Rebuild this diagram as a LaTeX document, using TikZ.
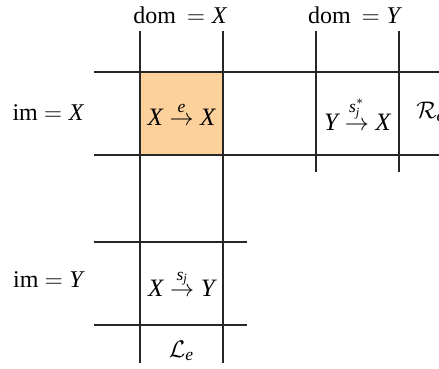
\documentclass[tikz,border=0pt]{standalone}
\usepackage{amsmath}
\usepackage{fontspec}
\setmainfont{Liberation Serif}
\definecolor{idfill}{RGB}{253,209,156}
\newcommand{\oX}{\mathit{X}}
\newcommand{\oY}{\mathit{Y}}

\begin{document}
\begin{tikzpicture}[x=0.5pt, y=-0.5pt,
  gridline/.style={line width=0.8pt, black!85},
  headlabel/.style={font=\fontsize{12}{14}\selectfont},
  celllabel/.style={font=\fontsize{12.5}{15}\selectfont, inner sep=0pt},
  cellbox/.style={minimum width=41.5pt, minimum height=41.5pt, inner sep=0pt}]
  \useasboundingbox (0,0) rectangle (439,369);

  % cells
  \node[cellbox, fill=idfill] (ee) at (181.5,113.5) {};
  \node[cellbox] (se) at (357.5,113.5) {};
  \node[cellbox] (es) at (181.5,283.5) {};

  % grid
  \draw[gridline] (140,31) -- (140,363);
  \draw[gridline] (223,31) -- (223,363);
  \draw[gridline] (316,31) -- (316,172);
  \draw[gridline] (399,31) -- (399,172);
  \draw[gridline] (94,72) -- (445,72);
  \draw[gridline] (94,155) -- (445,155);
  \draw[gridline] (94,242) -- (247,242);
  \draw[gridline] (94,325) -- (247,325);

  % cell texts
  \node[celllabel] at (ee) {$\oX \overset{\mathit{e}}{\to} \oX$};
  \node[celllabel] at (se) {$\oY \overset{\mathit{s}_{\mathit{j}}^*}{\to} \oX$};
  \node[celllabel] at (es) {$\oX \overset{\mathit{s}_{\mathit{j}}}{\to} \oY$};
  \node[celllabel, anchor=west] (re) at (416,112) {$\mathcal{R}_{\mathit{e}}$};
  \node[celllabel] (le) at (181.5,351) {$\mathcal{L}_{\mathit{e}}$};

  % headers
  \node[headlabel] (domx) at (180,15) {dom\hspace{0.45em}$= \oX$};
  \node[headlabel] (domy) at (354,15) {dom\hspace{0.45em}$= \oY$};
  \node[headlabel] (imx) at (48,113) {im $= \oX$};
  \node[headlabel] (imy) at (48,280) {im $= \oY$};
\end{tikzpicture}
\end{document}
